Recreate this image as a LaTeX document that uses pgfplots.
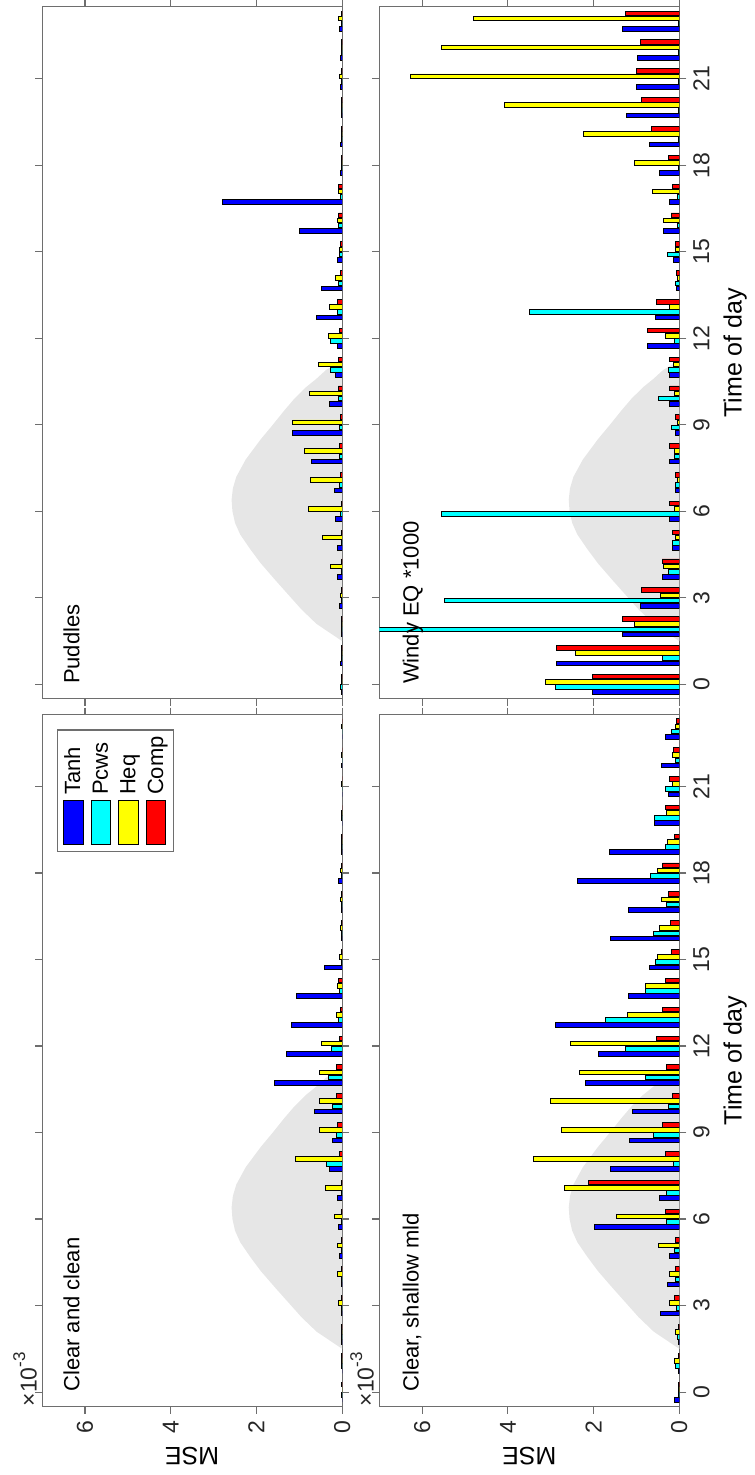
\documentclass[border=0pt]{standalone}
\usepackage{fontspec}
\setmainfont{Liberation Sans}
\usepackage{pgfplots}
\usepackage{pgfplotstable}
\pgfplotsset{compat=1.18}

\definecolor{framegray}{RGB}{110,110,110}
\definecolor{sunfill}{RGB}{230,230,230}
\definecolor{cTanh}{RGB}{0,0,255}
\definecolor{cPcws}{RGB}{0,255,255}
\definecolor{cHeq}{RGB}{255,255,0}
\definecolor{cComp}{RGB}{255,0,0}
\newcommand\tickfont{\fontsize{11.5}{13}\selectfont}
\newcommand\labfont{\fontsize{12.5}{14}\selectfont}
\newcommand\txtfont{\fontsize{11}{13}\selectfont}
\newcommand\swatch[1]{\raisebox{-1.2pt}{\setlength\fboxsep{0pt}\setlength\fboxrule{0.5pt}\fcolorbox{black}{#1}{\rule{0pt}{9.35pt}\hspace{21.5pt}}}}
\newcommand\expolabel{×10\raisebox{0.5em}{\fontsize{8.5}{9}\selectfont -3}}

% MSE (x 10^-3) per hour of day, one table per case
\pgfplotstableread{
h  tanh pcws heq  comp
0  0.00 0.01 0.00 0.01
1  0.00 0.01 0.01 0.01
2  0.01 0.01 0.02 0.01
3  0.01 0.01 0.09 0.01
4  0.02 0.01 0.10 0.01
5  0.06 0.01 0.11 0.01
6  0.08 0.02 0.19 0.01
7  0.12 0.02 0.39 0.02
8  0.30 0.36 1.09 0.06
9  0.22 0.14 0.53 0.11
10 0.65 0.22 0.53 0.14
11 1.57 0.31 0.53 0.14
12 1.29 0.24 0.48 0.06
13 1.19 0.08 0.14 0.03
14 1.06 0.06 0.12 0.08
15 0.41 0.02 0.06 0.02
16 0.01 0.01 0.03 0.01
17 0.01 0.01 0.03 0.01
18 0.09 0.01 0.03 0.01
19 0.01 0.01 0.01 0.01
20 0.00 0.01 0.01 0.00
21 0.00 0.00 0.01 0.00
22 0.01 0.00 0.01 0.00
23 0.00 0.00 0.01 0.00
}\clearclean

\pgfplotstableread{
h  tanh pcws heq  comp
0  0.02 0.05 0.01 0.01
1  0.05 0.01 0.01 0.01
2  0.02 0.01 0.01 0.01
3  0.06 0.01 0.05 0.01
4  0.12 0.01 0.27 0.01
5  0.12 0.01 0.46 0.01
6  0.16 0.05 0.78 0.02
7  0.19 0.06 0.75 0.05
8  0.71 0.06 0.88 0.06
9  1.15 0.06 1.15 0.05
10 0.30 0.08 0.76 0.09
11 0.16 0.28 0.55 0.08
12 0.11 0.28 0.32 0.06
13 0.59 0.12 0.30 0.12
14 0.48 0.09 0.16 0.05
15 0.11 0.06 0.06 0.05
16 1.00 0.09 0.11 0.08
17 2.79 0.05 0.08 0.08
18 0.03 0.01 0.01 0.01
19 0.03 0.01 0.01 0.01
20 0.01 0.01 0.01 0.01
21 0.05 0.01 0.06 0.01
22 0.03 0.01 0.01 0.01
23 0.06 0.01 0.08 0.01
}\puddles

\pgfplotstableread{
h  tanh pcws heq  comp
0  0.12 0.02 0.03 0.01
1  0.03 0.08 0.12 0.02
2  0.03 0.05 0.09 0.02
3  0.45 0.06 0.22 0.12
4  0.27 0.08 0.22 0.08
5  0.23 0.12 0.48 0.08
6  1.99 0.30 1.47 0.33
7  0.47 0.30 2.67 2.13
8  1.60 0.14 3.41 0.33
9  1.17 0.61 2.76 0.40
10 1.10 0.25 3.00 0.17
11 2.18 0.79 2.34 0.31
12 1.88 1.25 2.53 0.53
13 2.90 1.73 1.21 0.39
14 1.19 0.78 0.78 0.33
15 0.70 0.55 0.52 0.19
16 1.60 0.60 0.47 0.20
17 1.18 0.30 0.41 0.26
18 2.38 0.68 0.50 0.39
19 1.63 0.33 0.27 0.12
20 0.59 0.59 0.30 0.33
21 0.26 0.33 0.17 0.23
22 0.41 0.08 0.16 0.14
23 0.33 0.18 0.09 0.06
}\shallow

\pgfplotstableread{
h  tanh pcws heq  comp
0  2.02 2.89 3.12 2.02
1  2.87 0.40 2.42 2.87
2  1.33 7.50 1.05 1.33
3  0.90 5.48 0.45 0.88
4  0.40 0.26 0.37 0.40
5  0.16 0.16 0.08 0.16
6  0.23 5.55 0.12 0.23
7  0.08 0.08 0.05 0.08
8  0.23 0.12 0.12 0.23
9  0.09 0.19 0.05 0.09
10 0.23 0.48 0.12 0.22
11 0.23 0.26 0.14 0.23
12 0.74 0.12 0.33 0.74
13 0.55 3.50 0.24 0.53
14 0.06 0.09 0.05 0.06
15 0.14 0.27 0.08 0.09
16 0.36 0.05 0.37 0.19
17 0.22 0.05 0.62 0.16
18 0.47 0.01 1.04 0.26
19 0.70 0.01 2.24 0.66
20 1.23 0.01 4.07 0.88
21 1.01 0.01 6.28 1.01
22 0.97 0.01 5.55 0.90
23 1.33 0.01 4.81 1.25
}\windy

% daylight envelope drawn behind the bars
\pgfplotstableread{
t    v
1.5  0
1.8  0.30
2.1  0.60
2.6  0.95
3.1  1.25
3.6  1.55
4.2  1.90
4.7  2.15
5.2  2.38
5.6  2.50
6.0  2.56
6.4  2.58
6.8  2.55
7.2  2.47
7.8  2.25
8.5  1.90
9.0  1.62
9.5  1.35
9.9  1.12
10.3 0.85
10.6 0.60
10.9 0.38
11.1 0.15
11.2 0
}\daylight

\pgfplotsset{
  panel/.style={
    scale only axis, width=150pt, height=346pt, anchor=center,
    xmin=0, xmax=7, ymin=-0.5, ymax=23.5,
    x dir=reverse,
    xtick={0,2,4,6}, ytick={0,3,...,21},
    tick align=outside, major tick length=3.5pt,
    axis line style={framegray, line width=0.6pt},
    tick style={framegray, line width=0.6pt},
    /pgf/number format/assume math mode=true,
    ticklabel style={font=\tickfont, text=black!85},
    xticklabel style={rotate=90, anchor=east},
    yticklabel style={rotate=90, anchor=north},
    yticklabel pos=right,
  },
  nomse/.style={xticklabels={,,,,,}},
  notime/.style={yticklabels={,,,,,,,,,}},
  hbar/.style={xbar, bar width=0.16, draw=black, line width=0.45pt},
  sun/.style={fill=sunfill, draw=none, forget plot},
}
\tikzset{
  casename/.style={rotate=90, anchor=base west, inner sep=0pt, font=\txtfont, text=black},
  expo/.style={rotate=90, anchor=base west, inner sep=0pt, font=\tickfont, text=black!85},
}

\begin{document}
\begin{tikzpicture}
\path[use as bounding box] (0pt,0pt) rectangle (377pt,-737.5pt);

% ---------------- Clear and clean ----------------
\begin{axis}[panel, notime, at={(96.08pt,-530.25pt)},
  xlabel={MSE}, xlabel style={rotate=180, anchor=south, font=\labfont}]
\addplot[sun] table[x=v, y=t] {\daylight};
\addplot[hbar, bar shift=-0.27, fill=cTanh] table[x=tanh, y=h] {\clearclean};
\addplot[hbar, bar shift=-0.09, fill=cPcws] table[x=pcws, y=h] {\clearclean};
\addplot[hbar, bar shift=0.09,  fill=cHeq]  table[x=heq,  y=h] {\clearclean};
\addplot[hbar, bar shift=0.27,  fill=cComp] table[x=comp, y=h] {\clearclean};
\node[casename] at (axis cs:6.13,0) {Clear and clean};
\end{axis}

% ---------------- Puddles ----------------
\begin{axis}[panel, nomse, notime, at={(96.08pt,-176.4pt)}]
\addplot[sun] table[x=v, y=t] {\daylight};
\addplot[hbar, bar shift=-0.27, fill=cTanh] table[x=tanh, y=h] {\puddles};
\addplot[hbar, bar shift=-0.09, fill=cPcws] table[x=pcws, y=h] {\puddles};
\addplot[hbar, bar shift=0.09,  fill=cHeq]  table[x=heq,  y=h] {\puddles};
\addplot[hbar, bar shift=0.27,  fill=cComp] table[x=comp, y=h] {\puddles};
\node[casename] at (axis cs:6.13,0) {Puddles};
\end{axis}

% ---------------- Clear, shallow mld ----------------
\begin{axis}[panel, at={(264.65pt,-530.25pt)},
  xlabel={MSE}, xlabel style={rotate=180, anchor=south, font=\labfont},
  ylabel={Time of day}, ylabel style={rotate=0, anchor=north, font=\labfont}]
\addplot[sun] table[x=v, y=t] {\daylight};
\addplot[hbar, bar shift=-0.27, fill=cTanh] table[x=tanh, y=h] {\shallow};
\addplot[hbar, bar shift=-0.09, fill=cPcws] table[x=pcws, y=h] {\shallow};
\addplot[hbar, bar shift=0.09,  fill=cHeq]  table[x=heq,  y=h] {\shallow};
\addplot[hbar, bar shift=0.27,  fill=cComp] table[x=comp, y=h] {\shallow};
\node[casename] at (axis cs:6.08,0) {Clear, shallow mld};
\end{axis}

% ---------------- Windy EQ ----------------
\begin{axis}[panel, nomse, at={(264.65pt,-176.4pt)},
  ylabel={Time of day}, ylabel style={rotate=0, anchor=north, font=\labfont}]
\addplot[sun] table[x=v, y=t] {\daylight};
\addplot[hbar, bar shift=-0.27, fill=cTanh] table[x=tanh, y=h] {\windy};
\addplot[hbar, bar shift=-0.09, fill=cPcws] table[x=pcws, y=h] {\windy};
\addplot[hbar, bar shift=0.09,  fill=cHeq]  table[x=heq,  y=h] {\windy};
\addplot[hbar, bar shift=0.27,  fill=cComp] table[x=comp, y=h] {\windy};
\node[casename] at (axis cs:6.08,0) {Windy EQ *1000};
\end{axis}

% axis exponent labels
\node[expo] at (18.35pt,-703.35pt) {\expolabel};
\node[expo] at (186.85pt,-703.35pt) {\expolabel};

% legend of the four schemes
\node[rotate=90, anchor=north east, draw=framegray, line width=0.6pt, fill=white,
      align=left, inner xsep=3.2pt, inner ysep=2.8pt,
      font=\fontsize{11}{13.8}\selectfont]
  at (28.35pt,-364.65pt)
  {\swatch{cTanh}\hspace{2.5pt}Tanh\\
   \swatch{cPcws}\hspace{2.5pt}Pcws\\
   \swatch{cHeq}\hspace{2.5pt}Heq\\
   \swatch{cComp}\hspace{2.5pt}Comp};
\end{tikzpicture}
\end{document}
